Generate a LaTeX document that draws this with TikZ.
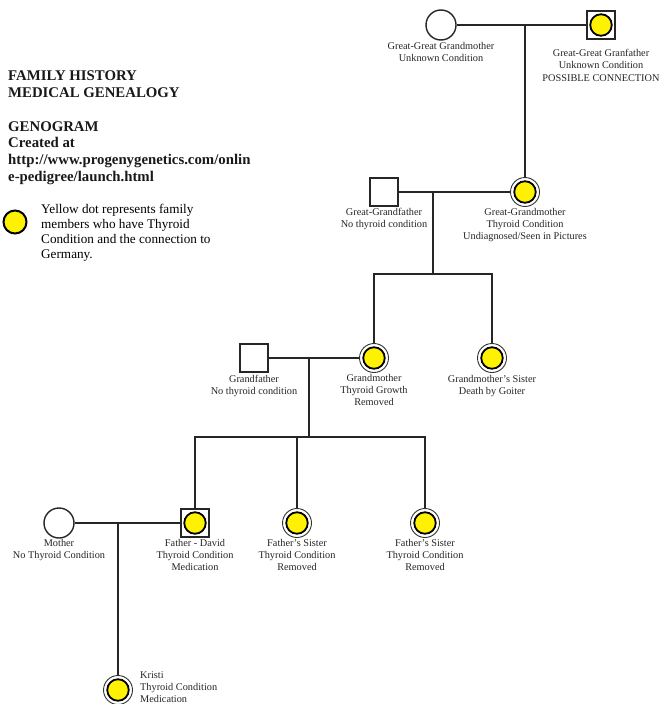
\documentclass[tikz,border=0pt]{standalone}
\usepackage{fontspec}
\setmainfont{Liberation Serif}
\begin{document}
\begin{tikzpicture}[x=1pt,y=-1pt,
  line/.style={draw=black!85, line width=1.5pt},
  male/.style={rectangle, draw=black!85, line width=1.4pt, fill=white, minimum size=28pt, inner sep=0pt},
  female/.style={circle, draw=black!85, line width=1.4pt, fill=white, minimum size=30pt, inner sep=0pt},
  ring/.style={circle, draw=black!80, line width=0.9pt, fill=white, minimum size=29pt, inner sep=0pt},
  ydot/.style={circle, draw=black, line width=1.8pt, fill=yellow, minimum size=21.5pt, inner sep=0pt},
  lbl/.style={align=center, font=\fontsize{10.3}{12.3}\selectfont, inner sep=0pt, anchor=north, text=black!85},
  titletext/.style={anchor=north west, align=left, font=\fontsize{14.8}{16.7}\selectfont\bfseries, inner sep=0pt, text=black!90},
]
\useasboundingbox[fill=white] (0,0) rectangle (663,704);

% title and legend
\node[titletext] (t1) at (8,71) {FAMILY HISTORY\\MEDICAL GENEALOGY};
\node[titletext] (t2) at (8,121) {GENOGRAM\\Created at\\http://www.progenygenetics.com/onlin\\e-pedigree/launch.html};
\node[circle, draw=black, line width=2pt, fill=yellow, minimum size=23pt, inner sep=0pt] (legdot) at (15,222) {};
\node[anchor=north west, align=left, font=\fontsize{13.2}{15}\selectfont, inner sep=0pt] (legtext) at (41,204)
  {Yellow dot represents family\\members who have Thyroid\\Condition and the connection to\\Germany.};

% generation 1
\node[female] (ggm) at (441,25) {};
\node[male] (ggf) at (601,25) {};
\node[ydot] (ggf-in) at (ggf) {};
\node[lbl] (ggm-l) at (441,42) {Great-Great Grandmother\\Unknown Condition};
\node[lbl] (ggf-l) at (601,49) {Great-Great Granfather\\Unknown Condition\\POSSIBLE CONNECTION};

% generation 2
\node[male] (ggfa) at (384,192) {};
\node[ring] (ggmo) at (525,192) {};
\node[ydot] (ggmo-in) at (ggmo) {};
\node[lbl] (ggfa-l) at (384,208) {Great-Grandfather\\No thyroid condition};
\node[lbl] (ggmo-l) at (525,208) {Great-Grandmother\\Thyroid Condition\\Undiagnosed/Seen in Pictures};

% generation 3
\node[male] (gf) at (254,358) {};
\node[ring] (gm) at (374,358) {};
\node[ydot] (gm-in) at (gm) {};
\node[ring] (gms) at (492,358) {};
\node[ydot] (gms-in) at (gms) {};
\node[lbl] (gf-l) at (254,375) {Grandfather\\No thyroid condition};
\node[lbl] (gm-l) at (374,374) {Grandmother\\Thyroid Growth\\Removed};
\node[lbl] (gms-l) at (492,375) {Grandmother's Sister\\Death by Goiter};

% generation 4
\node[female] (mo) at (59,523) {};
\node[male] (fa) at (195,523) {};
\node[ydot] (fa-in) at (fa) {};
\node[ring] (s1) at (297,523) {};
\node[ydot] (s1-in) at (s1) {};
\node[ring] (s2) at (425,523) {};
\node[ydot] (s2-in) at (s2) {};
\node[lbl] (mo-l) at (59,539) {Mother\\No Thyroid Condition};
\node[lbl] (fa-l) at (195,539) {Father - David\\Thyroid Condition\\Medication};
\node[lbl] (s1-l) at (297,539) {Father's Sister\\Thyroid Condition\\Removed};
\node[lbl] (s2-l) at (425,539) {Father's Sister\\Thyroid Condition\\Removed};

% generation 5
\node[ring] (kr) at (118,690) {};
\node[ydot] (kr-in) at (kr) {};
\node[lbl, anchor=north west, align=left] (kr-l) at (140,671) {Kristi\\Thyroid Condition\\Medication};

% connectors
\coordinate (j1) at (525,25);
\coordinate (j2) at (433,192);
\coordinate (j2b) at (433,274);
\coordinate (j3) at (309,358);
\coordinate (j3b) at (309,437);
\coordinate (j4) at (118,523);

\draw[line] (ggm) -- (ggf);
\draw[line] (j1) -- (ggmo.north);
\draw[line] (ggfa) -- (ggmo);
\draw[line] (j2) -- (j2b);
\draw[line] (gm.north) -- (gm.north |- j2b) -- (gms.north |- j2b) -- (gms.north);

\draw[line] (gf) -- (gm);
\draw[line] (j3) -- (j3b);
\draw[line] (fa.north) -- (fa.north |- j3b) -- (s2.north |- j3b) -- (s2.north);
\draw[line] (s1.north) -- (s1.north |- j3b);

\draw[line] (mo) -- (fa);
\draw[line] (j4) -- (kr.north);
\end{tikzpicture}
\end{document}
